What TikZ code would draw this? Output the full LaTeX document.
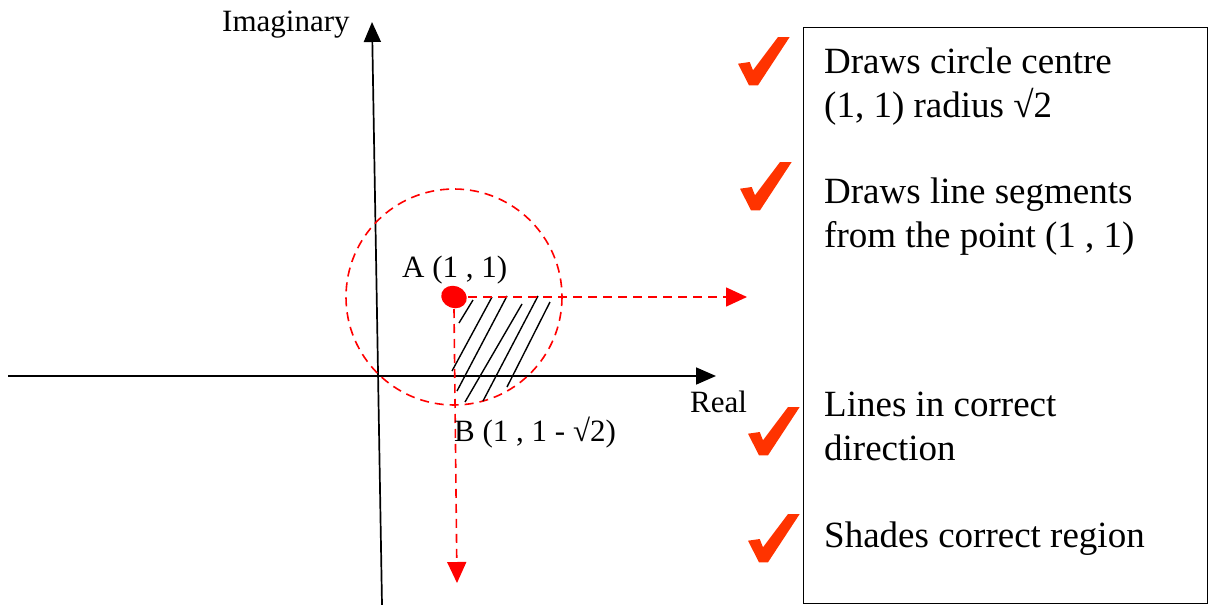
\documentclass[tikz,border=0pt]{standalone}
\usepackage{fontspec}
\setmainfont{Liberation Serif}
\usetikzlibrary{arrows.meta,positioning}
\definecolor{penred}{RGB}{255,0,0}
\definecolor{tickred}{RGB}{255,51,0}
\tikzset{
  axis/.style={line width=1.7pt,-{Triangle[length=20pt,width=17pt]}},
  guide/.style={penred,line width=1.6pt,dash pattern=on 9pt off 6pt},
  guidearrow/.style={guide,-{Triangle[length=21pt,width=19pt]}},
  boxtext/.style={anchor=base west,align=left,inner sep=0pt,font=\fontsize{37}{44}\selectfont},
  lbl/.style={anchor=base west,inner sep=0pt,font=\fontsize{31}{37}\selectfont},
  tick/.pic={\fill[tickred] (0,26.7)--(11.7,25)--(15,33.3)--(40,0)--(51.7,0)--(20,48.3)--(11,48.3)--cycle;}
}
\begin{document}
\begin{tikzpicture}[x=1pt,y=-1pt]
\useasboundingbox (0,0) rectangle (1211,605);
% axes
\coordinate (re0) at (8,376); \coordinate (re1) at (716,376);
\coordinate (im0) at (382,605); \coordinate (im1) at (372,22);
\draw[axis] (re0)--(re1);
\draw[axis] (im0)--(im1);
\node[lbl] (imag) at (222,31) {Imaginary};
\node[lbl] (real) at (690,412) {Real};
% circle, centre A
\coordinate (A) at (454,297);
\draw[guide] (A) circle[radius=108];
\foreach \a/\b/\c/\d in {459/323/473/300, 452/371/492/297, 457/391/507/296, 465/402/522/304, 483/401/538/296, 507/387/550/302}
  \draw[line width=1.4pt] (\a,\b)--(\c,\d);
\coordinate (Aright) at (747,297); \coordinate (Adown) at (457,583);
\draw[guidearrow] ([xshift=14pt]A)--(Aright);
\draw[guidearrow] ([yshift=-12pt]A)--(Adown);
\fill[penred,rotate around={-20:(A)}] (A) ellipse[x radius=13,y radius=11];
\node[lbl] (labA) at (402,277) {A (1 , 1)};
\node[lbl] (labB) at (454,441) {B (1 , 1 - √2)};
% marking box (base = last line)
\node[draw,line width=1.2pt,inner sep=0pt,minimum width=404pt,minimum height=576pt,anchor=north west] (box) at (803,27) {};
\node[boxtext] (t1) at (824,117) {Draws circle centre\\(1, 1) radius √2};
\node[boxtext] (t2) at (824,247) {Draws line segments\\from the point (1 , 1)};
\node[boxtext] (t3) at (824,460) {Lines in correct\\direction};
\node[boxtext] (t4) at (824,547) {Shades correct region};
\pic at (738,37) {tick};
\pic at (740,162) {tick};
\pic at (748,407) {tick};
\pic at (748,514) {tick};
\end{tikzpicture}
\end{document}
